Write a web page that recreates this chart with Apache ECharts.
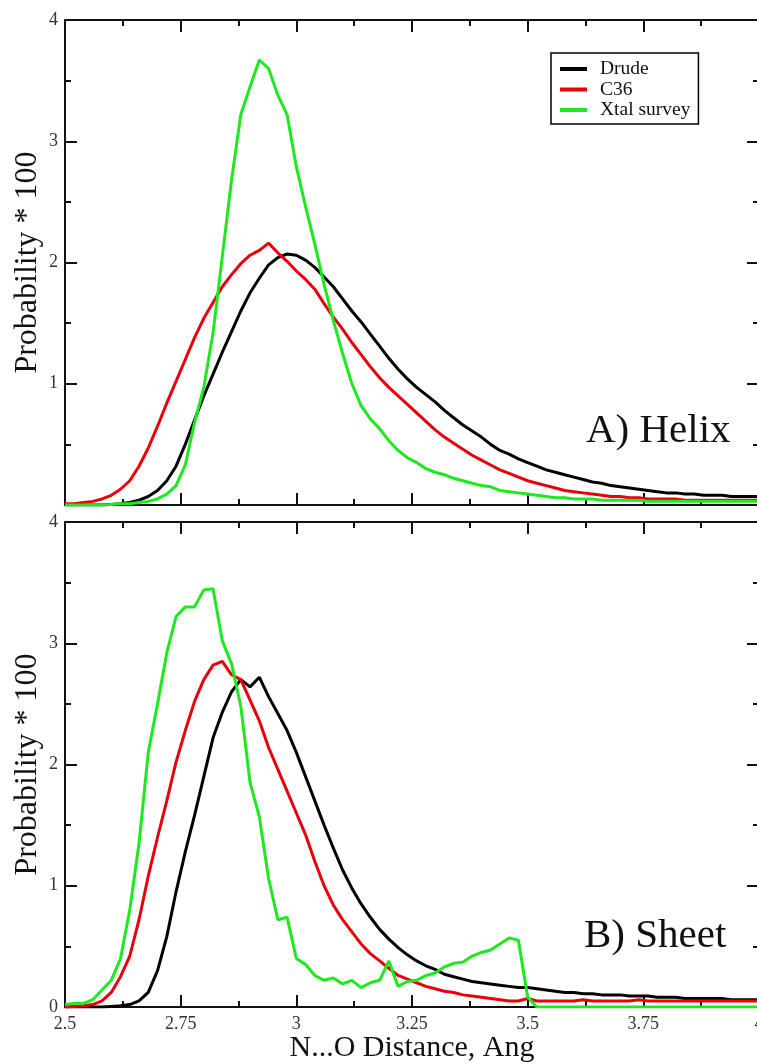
<!DOCTYPE html>
<html>
<head>
<meta charset="utf-8">
<script src="https://cdn.jsdelivr.net/npm/echarts@6/dist/echarts.min.js"></script>
<style>
html,body{margin:0;padding:0;background:#fff;}
#chart{width:757px;height:1064px;}
</style>
</head>
<body>
<div id="chart"></div>
<script>
// N...O distance (Angstrom), shared by all curves
const distance = [2.50,2.52,2.54,2.56,2.58,2.60,2.62,2.64,2.66,2.68,2.70,2.72,2.74,2.76,2.78,2.80,2.82,2.84,2.86,2.88,
2.90,2.92,2.94,2.96,2.98,3.00,3.02,3.04,3.06,3.08,3.10,3.12,3.14,3.16,3.18,3.20,3.22,3.24,3.26,3.28,
3.30,3.32,3.34,3.36,3.38,3.40,3.42,3.44,3.46,3.48,3.50,3.52,3.54,3.56,3.58,3.60,3.62,3.64,3.66,3.68,
3.70,3.72,3.74,3.76,3.78,3.80,3.82,3.84,3.86,3.88,3.90,3.92,3.94,3.96,3.98,4.00];

// A) Helix
const helixDrude = [0,0,0,0,0, 0.005,0.01,0.02,0.04,0.07, 0.12,0.20,0.32,0.50,0.70, 0.90,1.08,1.26,1.43,1.60,
1.75,1.87,1.98,2.04,2.07, 2.06,2.02,1.96,1.88,1.80, 1.70,1.60,1.51,1.41,1.31, 1.21,1.12,1.04,0.97,0.91,
0.85,0.78,0.72,0.66,0.61, 0.56,0.50,0.45,0.42,0.38, 0.35,0.32,0.29,0.27,0.25, 0.23,0.21,0.19,0.18,0.16,
0.15,0.14,0.13,0.12,0.11, 0.10,0.10,0.09,0.09,0.08, 0.08,0.08,0.07,0.07,0.07,0.07];
const helixC36 = [0.01,0.01,0.02,0.03,0.05, 0.08,0.13,0.20,0.32,0.47, 0.65,0.84,1.02,1.20,1.38, 1.54,1.67,1.80,1.90,1.99,
2.06,2.10,2.16,2.08,2.01, 1.93,1.86,1.78,1.66,1.55, 1.45,1.34,1.24,1.14,1.05, 0.97,0.90,0.83,0.76,0.69,
0.62,0.56,0.51,0.46,0.41, 0.37,0.33,0.29,0.26,0.23, 0.20,0.18,0.16,0.14,0.12, 0.11,0.10,0.09,0.08,0.07,
0.07,0.06,0.06,0.05,0.05, 0.05,0.05,0.04,0.04,0.04, 0.04,0.04,0.04,0.04,0.04,0.04];
const helixXtal = [0,0,0,0,0, 0.005,0.01,0.01,0.02,0.03, 0.05,0.09,0.16,0.33,0.68, 0.97,1.42,2.05,2.68,3.22,
3.45,3.67,3.60,3.38,3.22, 2.79,2.46,2.15,1.82,1.52, 1.25,1.00,0.82,0.71,0.63, 0.53,0.45,0.39,0.35,0.30,
0.27,0.25,0.22,0.20,0.18, 0.16,0.15,0.12,0.11,0.10, 0.09,0.08,0.07,0.06,0.06, 0.05,0.05,0.05,0.04,0.04,
0.04,0.04,0.04,0.03,0.03, 0.03,0.03,0.03,0.03,0.03, 0.03,0.03,0.03,0.03,0.03,0.03];

// B) Sheet
const sheetDrude = [0,0,0,0,0, 0.005,0.01,0.02,0.05,0.12, 0.30,0.58,0.95,1.28,1.58, 1.90,2.22,2.43,2.60,2.70,
2.64,2.72,2.56,2.42,2.28, 2.10,1.90,1.70,1.50,1.31, 1.13,0.98,0.85,0.74,0.64, 0.56,0.49,0.43,0.38,0.34,
0.31,0.27,0.25,0.23,0.21, 0.20,0.19,0.18,0.17,0.16, 0.16,0.15,0.14,0.13,0.12, 0.12,0.11,0.11,0.10,0.10,
0.10,0.09,0.09,0.09,0.08, 0.08,0.08,0.07,0.07,0.07, 0.07,0.07,0.06,0.06,0.06,0.06];
const sheetC36 = [0,0.005,0.01,0.02,0.05, 0.12,0.25,0.42,0.72,1.08, 1.40,1.70,2.02,2.28,2.52, 2.70,2.82,2.85,2.74,2.70,
2.53,2.36,2.14,1.96,1.78, 1.60,1.42,1.20,1.00,0.84, 0.72,0.62,0.52,0.44,0.38, 0.32,0.26,0.23,0.20,0.17,
0.15,0.13,0.12,0.10,0.09, 0.08,0.07,0.06,0.05,0.05, 0.07,0.05,0.05,0.05,0.05, 0.05,0.06,0.05,0.05,0.05,
0.05,0.05,0.06,0.05,0.05, 0.05,0.05,0.05,0.05,0.05, 0.05,0.05,0.05,0.05,0.05,0.05];
const sheetXtal = [0.02,0.03,0.03,0.06,0.14, 0.22,0.40,0.80,1.35,2.10, 2.50,2.92,3.22,3.30,3.30, 3.44,3.45,3.02,2.83,2.48,
1.85,1.57,1.06,0.72,0.74, 0.40,0.35,0.26,0.22,0.24, 0.19,0.22,0.16,0.20,0.22, 0.38,0.17,0.21,0.22,0.26,
0.28,0.33,0.36,0.37,0.42, 0.45,0.47,0.52,0.57,0.55, 0.08,0,0,0,0, 0,0,0,0,0,
0,0,0,0,0, 0,0,0,0,0, 0,0,0,0,0,0];

const xTicks = [2.5, 2.75, 3, 3.25, 3.5, 3.75, 4];
const yTicks = [0, 1, 2, 3, 4];
const seriesNames = ['Drude', 'C36', 'Xtal survey'];
const panelLabels = ['A) Helix', 'B) Sheet'];
const xName = 'N...O Distance, Ang';
const yName = 'Probability * 100';

const FONT = "'Liberation Serif', 'DejaVu Serif', serif";
const COLORS = ['#000000', '#e8000b', '#1ee81e'];

const zip = arr => distance.map((d, i) => [d, arr[i]]);

function xAxis(gridIndex, position, showLabel, name) {
  return {
    type: 'value', gridIndex, position, min: xTicks[0], max: xTicks[xTicks.length - 1], interval: 0.25,
    axisLine: { show: true, onZero: false, lineStyle: { color: '#111', width: 2 } },
    axisTick: { show: true, inside: true, length: 12, lineStyle: { color: '#111', width: 2 } },
    minorTick: { show: true, splitNumber: 2, length: 6, lineStyle: { color: '#111', width: 2 } },
    splitLine: { show: false },
    axisLabel: { show: showLabel, fontFamily: FONT, fontSize: 18, color: '#333', margin: 8,
      formatter: v => String(+v.toFixed(2)) },
    name: name || '', nameLocation: 'middle', nameGap: 26, nameMoveOverlap: false,
    nameTextStyle: { fontFamily: FONT, fontSize: 30, color: '#111' }
  };
}
function yAxis(gridIndex, position, showLabel, hideZero) {
  return {
    type: 'value', gridIndex, position, min: yTicks[0], max: yTicks[yTicks.length - 1], interval: 1,
    axisLine: { show: true, onZero: false, lineStyle: { color: '#111', width: 2 } },
    axisTick: { show: true, inside: true, length: 12, lineStyle: { color: '#111', width: 2 } },
    minorTick: { show: true, splitNumber: 2, length: 6, lineStyle: { color: '#111', width: 2 } },
    splitLine: { show: false },
    axisLabel: { show: showLabel, fontFamily: FONT, fontSize: 18, color: '#333', margin: 7,
      formatter: v => (hideZero && v === 0) ? '' : String(v) },
    name: showLabel ? yName : '', nameLocation: 'middle', nameGap: 21, nameMoveOverlap: false,
    nameTextStyle: { fontFamily: FONT, fontSize: 32, color: '#111' }
  };
}

function line(name, data, xi, yi, ci) {
  return {
    type: 'line', name, data: zip(data), xAxisIndex: xi, yAxisIndex: yi,
    showSymbol: false, symbol: 'none', animation: false,
    lineStyle: { color: COLORS[ci], width: 3 }, itemStyle: { color: COLORS[ci] }
  };
}

const chart = echarts.init(document.getElementById('chart'), null, { renderer: 'canvas' });
chart.setOption({
  backgroundColor: '#fff',
  animation: false,
  grid: [
    { left: 65, top: 20, width: 694, height: 485, outerBoundsMode: 'none', containLabel: false },
    { left: 65, top: 522, width: 694, height: 485, outerBoundsMode: 'none', containLabel: false }
  ],
  xAxis: [
    xAxis(0, 'bottom', false), xAxis(0, 'top', false),
    xAxis(1, 'bottom', true, xName), xAxis(1, 'top', false)
  ],
  yAxis: [
    yAxis(0, 'left', true, true), yAxis(0, 'right', false),
    yAxis(1, 'left', true, false), yAxis(1, 'right', false)
  ],
  legend: {
    data: seriesNames, orient: 'vertical', left: 551, top: 53,
    backgroundColor: '#fff', borderColor: '#000', borderWidth: 1.5, borderRadius: 0,
    padding: [6, 8, 4, 9], itemWidth: 27, itemHeight: 4, itemGap: 0.5, icon: 'rect',
    selectedMode: false,
    textStyle: { fontFamily: FONT, fontSize: 19.5, lineHeight: 19.5, color: '#111', padding: [0, 0, 0, 8] }
  },
  graphic: [
    { type: 'text', left: 586, top: 411, style: { text: panelLabels[0], font: "41px 'Liberation Serif', serif", fill: '#111' } },
    { type: 'text', left: 584, top: 916, style: { text: panelLabels[1], font: "41px 'Liberation Serif', serif", fill: '#111' } }
  ],
  series: [
    line(seriesNames[0], helixDrude, 0, 0, 0),
    line(seriesNames[1], helixC36, 0, 0, 1),
    line(seriesNames[2], helixXtal, 0, 0, 2),
    line(seriesNames[0], sheetDrude, 2, 2, 0),
    line(seriesNames[1], sheetC36, 2, 2, 1),
    line(seriesNames[2], sheetXtal, 2, 2, 2)
  ]
});
</script>
</body>
</html>
